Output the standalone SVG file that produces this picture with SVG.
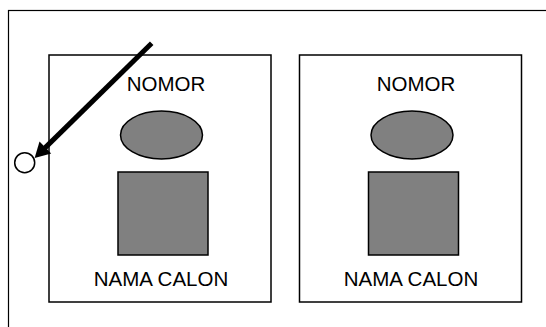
<svg xmlns="http://www.w3.org/2000/svg" width="546" height="327" viewBox="0 0 546 327">
<defs>
<style>
.panel{fill:#fff;stroke:#000;stroke-width:1.5}
.shape{fill:#808080;stroke:#000;stroke-width:1.5}
.lbl{font-family:"Liberation Sans",Arial,sans-serif;font-size:20.5px;fill:#000;text-anchor:middle}
</style>
<marker id="head" markerUnits="strokeWidth" markerWidth="3" markerHeight="3.4" refX="0.1" refY="1.67" orient="auto" overflow="visible">
<path d="M0,0 L3,1.67 L0,3.34 z" fill="#000"/>
</marker>
</defs>
<rect width="546" height="327" fill="#fff"/>
<rect id="frame" x="8.5" y="10.5" width="600" height="400" fill="none" stroke="#000" stroke-width="1.2"/>
<g id="panel1">
<rect class="panel" x="49" y="55" width="222" height="247"/>
<text class="lbl" x="166" y="91">NOMOR</text>
<ellipse class="shape" cx="161.5" cy="135" rx="41" ry="24"/>
<rect class="shape" x="118" y="172" width="90" height="83"/>
<text class="lbl" x="161" y="286">NAMA CALON</text>
</g>
<g id="panel2">
<rect class="panel" x="299.5" y="55" width="222" height="247"/>
<text class="lbl" x="416" y="91">NOMOR</text>
<ellipse class="shape" cx="412" cy="135" rx="41" ry="24"/>
<rect class="shape" x="368.5" y="172" width="90" height="83"/>
<text class="lbl" x="411" y="286">NAMA CALON</text>
</g>
<g id="pointer">
<circle cx="24.7" cy="162.7" r="10" fill="#fff" stroke="#000" stroke-width="1.5"/>
</g>
<g id="connectors">
<line x1="151.7" y1="43.3" x2="45" y2="147.9" stroke="#000" stroke-width="5" marker-end="url(#head)"/>
</g>
</svg>
